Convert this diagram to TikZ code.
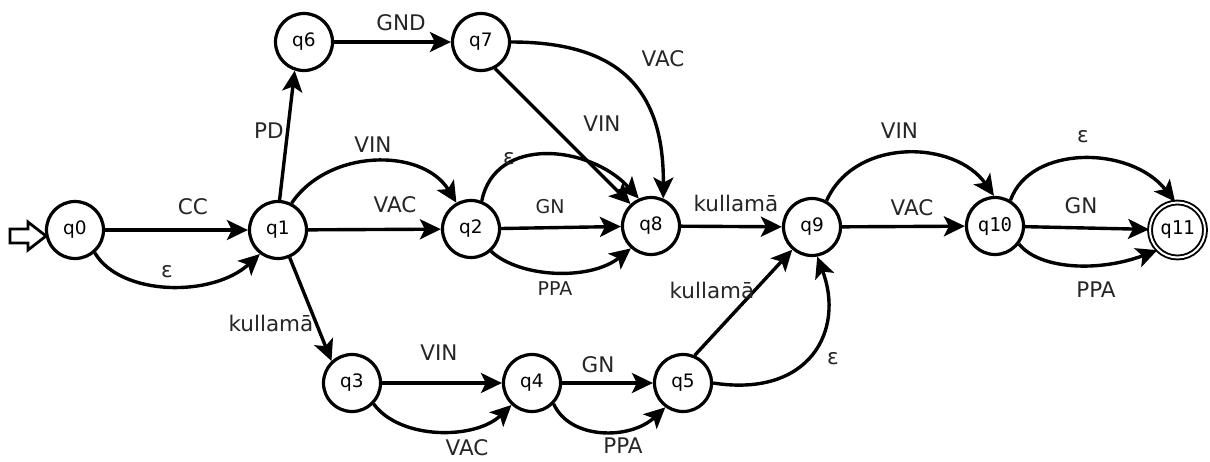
\documentclass[tikz,border=0pt]{standalone}
\usepackage{fontspec}
\setmainfont{DejaVu Sans}
\newfontfamily\monofont{DejaVu Sans Mono}
\usetikzlibrary{arrows.meta}

\begin{document}
\begin{tikzpicture}[x=1pt, y=-1pt,
  state/.style={draw, circle, line width=3.2pt, minimum size=57pt, inner sep=0pt,
    font=\fontsize{18.5}{22}\selectfont},
  monostate/.style={state, font=\monofont\fontsize{19}{22}\selectfont},
  finalstate/.style={monostate, double, double distance=2pt, line width=1.9pt, minimum size=55pt},
  trans/.style={line width=3.4pt, -{Stealth[length=21pt, width=20pt, inset=5pt]}},
  lbl/.style={font=\fontsize{21.5}{25}\selectfont, inner sep=0pt, text=black!85},
  slbl/.style={lbl, font=\fontsize{19}{22}\selectfont},
]
\fill[white] (0,0) rectangle (1210,461);
\useasboundingbox (0,0) rectangle (1210,461);

% states
\node[state] (q0) at (75,230) {q0};
\node[state] (q1) at (278,230) {q1};
\node[state] (q6) at (304,42) {q6};
\node[state] (q7) at (481,42) {q7};
\node[state] (q2) at (471,229) {q2};
\node[state] (q8) at (651,226) {q8};
\node[state] (q9) at (812,227) {q9};
\node[monostate] (q10) at (995,226) {q10};
\node[finalstate] (q11) at (1177.5,230) {q11};
\node[state] (q3) at (352,383) {q3};
\node[state] (q4) at (532,383) {q4};
\node[state] (q5) at (683,383) {q5};

% start marker
\draw[line width=2.8pt, line join=miter] (10,229) -- (28,229) -- (28,222) -- (46,236)
  -- (28,250) -- (28,243) -- (10,243) -- cycle;

% transitions
\draw[trans] (q0) -- (q1);
\draw[trans] (q0.-49) .. controls (120,296) and (212,298) .. (q1.-127);
\draw[trans] (q1.87) -- (q6.-108);
\draw[trans] (q6) -- (q7);
\draw[trans] (q7.east) .. controls (618,42) and (664,88) .. (q8.66);
\draw[trans] (q7.-62) -- (q8.133);
\draw[trans] (q2.69) .. controls (495,135) and (590,145) .. (q8.114);
\draw[trans] (q2) -- (q8);
\draw[trans] (q2.-48) .. controls (520,278) and (590,281) .. (q8.-132);
\draw[trans] (q1.63) .. controls (328,149) and (422,147) .. (q2.119);
\draw[trans] (q1) -- (q2);
\draw[trans] (q1.-67) -- (q3.133);
\draw[trans] (q8) -- (q9);
\draw[trans] (q5.67) -- (q9.-131);
\draw[trans] (q5.east) .. controls (810,398) and (845,330) .. (q9.-80);
\draw[trans] (q9.61) .. controls (855,137) and (955,140) .. (q10.92);
\draw[trans] (q9) -- (q10);
\draw[trans] (q10.59) .. controls (1030,145) and (1130,145) .. (q11.95);
\draw[trans] (q10) -- (q11);
\draw[trans] (q10.-37) .. controls (1040,270) and (1100,272) .. (q11.-135);
\draw[trans] (q3) -- (q4);
\draw[trans] (q3.-44) .. controls (400,440) and (475,440) .. (q4.-133);
\draw[trans] (q4) -- (q5);
\draw[trans] (q4.-44) .. controls (570,440) and (630,440) .. (q5.-126);

% transition labels
\node[lbl] (lCC) at (193,207) {CC};
\node[lbl] (lEps01) at (167,272) {ε};
\node[lbl] (lPD) at (269,131) {PD};
\node[lbl] (lGND) at (401,23) {GND};
\node[lbl] (lVAC78) at (663,59) {VAC};
\node[lbl] (lVIN78) at (602,124) {VIN};
\node[lbl] (lEps28) at (509,159) {ε};
\node[slbl] (lGN28) at (550,207) {GN};
\node[slbl] (lPPA28) at (555,289) {PPA};
\node[lbl] (lVIN12) at (373,145) {VIN};
\node[lbl] (lVAC12) at (395,204.5) {VAC};
\node[lbl] (lK13) at (271,323) {kullamā};
\node[lbl] (lK89) at (736,203.5) {kullamā};
\node[lbl] (lK59) at (712,290) {kullamā};
\node[lbl] (lEps59) at (833,359) {ε};
\node[lbl] (lVIN910) at (899.5,130.5) {VIN};
\node[lbl] (lVAC910) at (912,208) {VAC};
\node[lbl] (lEps1011) at (1083,137) {ε};
\node[lbl] (lGN1011) at (1081,205.5) {GN};
\node[lbl] (lPPA1011) at (1096,289.5) {PPA};
\node[lbl] (lVIN34) at (439,353) {VIN};
\node[lbl] (lVAC34) at (467,448) {VAC};
\node[lbl] (lGN45) at (598,365) {GN};
\node[lbl] (lPPA45) at (623,446) {PPA};
\end{tikzpicture}
\end{document}
